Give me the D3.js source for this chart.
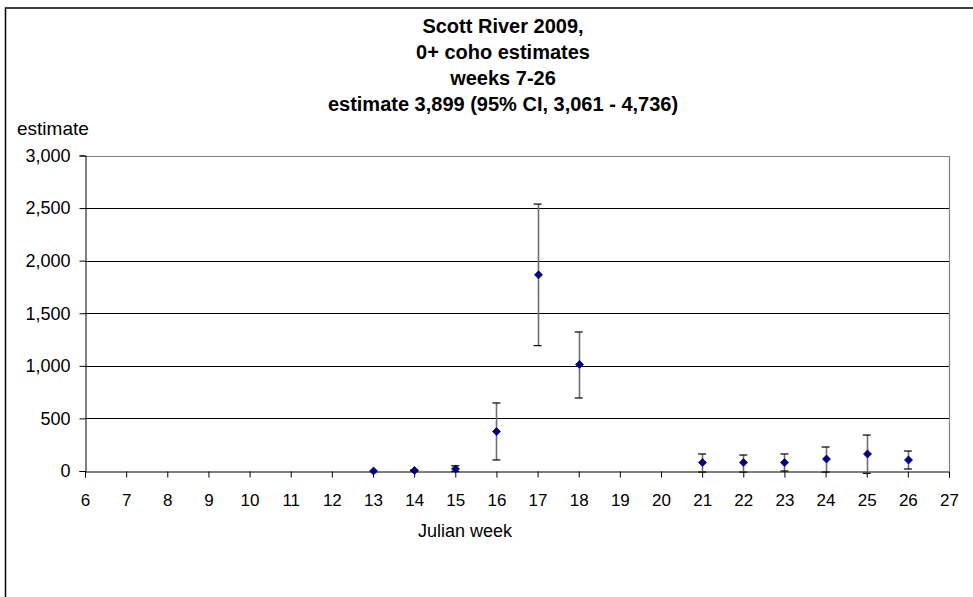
<!DOCTYPE html>
<html>
<head>
<meta charset="utf-8">
<script src="https://cdn.jsdelivr.net/npm/d3@7"></script>
<style>
  html, body { margin: 0; padding: 0; background: #fff; }
  svg { display: block; font-family: "Liberation Sans", Arial, sans-serif; }
</style>
</head>
<body>
<svg id="chart" width="973" height="597"></svg>
<script>
// Weekly 0+ coho estimates with 95% confidence limits
const weeks    = [13, 14, 15, 16, 17, 18, 21, 22, 23, 24, 25, 26];
const estimate = [0, 5, 20, 375, 1865, 1013, 80, 80, 80, 114, 162, 105];
const ciLower  = [0, 0, -5, 105, 1192, 694, -10, -10, 0, -10, -22, 19];
const ciUpper  = [0, 10, 50, 647, 2538, 1322, 162, 152, 162, 228, 342, 190];

const xTicks = d3.range(6, 28);           // Julian weeks 6..27
const yTicks = [0, 500, 1000, 1500, 2000, 2500, 3000];

const titleLines = [
  "Scott River 2009,",
  "0+ coho estimates",
  "weeks 7-26",
  "estimate 3,899 (95% CI, 3,061 - 4,736)"
];

const svg = d3.select("#chart");
const plotLeft = 85, plotRight = 949, plotTop = 155.5, plotBottom = 471;

const x = d3.scaleLinear().domain([6, 27]).range([plotLeft, plotRight]);
const y = d3.scaleLinear().domain([0, 3000]).range([plotBottom, plotTop]);

// outer chart frame
svg.append("rect")
  .attr("x", 5.5).attr("y", 8).attr("width", 980).attr("height", 620)
  .attr("fill", "none").attr("stroke", "#000").attr("stroke-width", 1.5);

// title
svg.append("g").selectAll("text").data(titleLines).join("text")
  .attr("x", 503).attr("y", (d, i) => 33 + i * 26)
  .attr("text-anchor", "middle")
  .attr("font-size", 20).attr("font-weight", "bold")
  .text(d => d);

// horizontal gridlines
svg.append("g").selectAll("line").data(yTicks.filter(v => v > 0 && v < 3000)).join("line")
  .attr("x1", plotLeft).attr("x2", plotRight)
  .attr("y1", d => Math.round(y(d)) + 0.5).attr("y2", d => Math.round(y(d)) + 0.5)
  .attr("stroke", "#000").attr("stroke-width", 1);

// plot area frame (top and right edges)
svg.append("path")
  .attr("d", `M${plotLeft},${Math.round(plotTop) + 0.5}H${plotRight + 0.5}V${plotBottom}`)
  .attr("fill", "none").attr("stroke", "#808080").attr("stroke-width", 1.2);

// y axis
const yAxis = d3.axisLeft(y).tickValues(yTicks).tickSize(6).tickPadding(9)
  .tickFormat(d3.format(","));
const gy = svg.append("g").attr("transform", `translate(${plotLeft + 0.5},0)`).call(yAxis);
gy.select(".domain").attr("stroke", "#000");
gy.selectAll(".tick line").attr("stroke", "#000");
gy.selectAll(".tick text").attr("font-size", 18).attr("fill", "#000")
  .attr("font-family", "'Liberation Sans', Arial, sans-serif");

// x axis
const xAxis = d3.axisBottom(x).tickValues(xTicks).tickSize(6).tickPadding(16)
  .tickFormat(d3.format("d"));
const gx = svg.append("g").attr("transform", `translate(0,${plotBottom + 0.5})`).call(xAxis);
gx.select(".domain").attr("stroke", "#000");
gx.selectAll(".tick line").attr("stroke", "#000");
gx.selectAll(".tick text").attr("font-size", 17).attr("fill", "#000")
  .attr("font-family", "'Liberation Sans', Arial, sans-serif");

// axis titles
svg.append("text").attr("x", 17).attr("y", 135)
  .attr("font-size", 19).text("estimate");
svg.append("text").attr("x", 465).attr("y", 537)
  .attr("text-anchor", "middle").attr("font-size", 18).text("Julian week");

// error bars
const rows = weeks.map((w, i) => ({ w, v: estimate[i], lo: ciLower[i], hi: ciUpper[i] }));
const eb = svg.append("g").selectAll("g").data(rows.filter(d => d.hi > d.lo)).join("g");
eb.append("line")
  .attr("x1", d => Math.round(x(d.w)) + 0.5).attr("x2", d => Math.round(x(d.w)) + 0.5)
  .attr("y1", d => y(d.lo)).attr("y2", d => y(d.hi))
  .attr("stroke", "#6e6e6e").attr("stroke-width", 1.6);
eb.selectAll(".cap").data(d => [[d.w, d.lo], [d.w, d.hi]]).join("line")
  .attr("class", "cap")
  .attr("x1", d => x(d[0]) - 4).attr("x2", d => x(d[0]) + 4)
  .attr("y1", d => y(d[1])).attr("y2", d => y(d[1]))
  .attr("stroke", "#000").attr("stroke-width", 1.2);

// point markers
svg.append("g").selectAll("path").data(rows).join("path")
  .attr("transform", d => `translate(${Math.round(x(d.w)) + 0.5},${y(d.v)})`)
  .attr("d", "M0,-4L4,0L0,4L-4,0Z")
  .attr("fill", "#000080").attr("stroke", "#000080").attr("stroke-width", 0.8);
</script>
</body>
</html>
